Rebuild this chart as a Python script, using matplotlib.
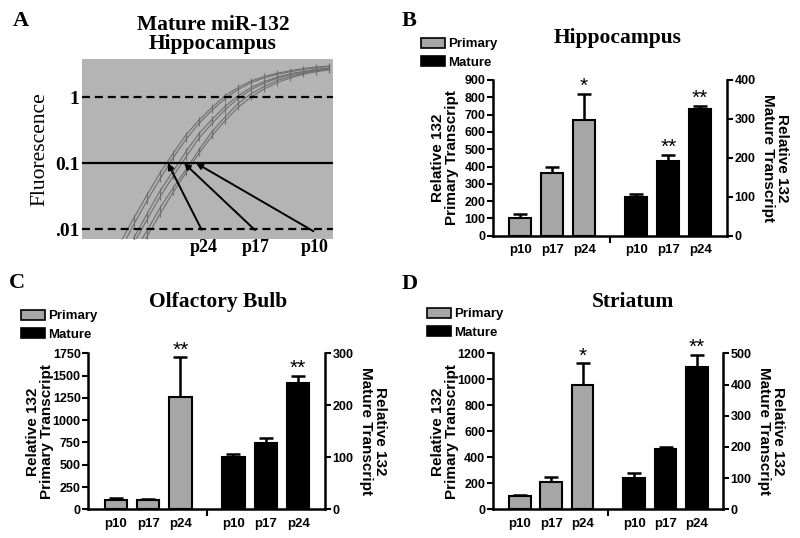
import matplotlib
matplotlib.use("Agg")
import matplotlib.pyplot as plt
import matplotlib.transforms as mtransforms
from matplotlib.patches import Patch
import numpy as np

SERIF = "Liberation Serif"
SANS = "Liberation Sans"
plt.rcParams["font.family"] = SANS
plt.rcParams["font.weight"] = "bold"
plt.rcParams["axes.labelweight"] = "bold"

W, H = 800, 538

# ---- panel A: real-time PCR amplification curves (fluorescence per cycle)
cycles = [18, 19, 20, 21, 22, 23, 24, 25, 26, 27, 28, 29, 30, 31, 32, 33, 34]
p24_a = [0.0065, 0.015, 0.033, 0.071, 0.14, 0.27, 0.45, 0.70, 1.05, 1.40, 1.75, 2.05, 2.30, 2.50, 2.70, 2.85, 2.95]
p24_b = [0.005, 0.012, 0.027, 0.058, 0.12, 0.23, 0.40, 0.63, 0.95, 1.30, 1.65, 1.95, 2.20, 2.42, 2.62, 2.78, 2.90]
p17_a = [0.0033, 0.0075, 0.017, 0.038, 0.075, 0.15, 0.28, 0.46, 0.72, 1.05, 1.40, 1.72, 2.00, 2.25, 2.45, 2.62, 2.75]
p17_b = [0.0028, 0.0062, 0.014, 0.031, 0.063, 0.125, 0.24, 0.40, 0.64, 0.95, 1.30, 1.62, 1.92, 2.18, 2.40, 2.58, 2.72]
p10_a = [0.002, 0.0045, 0.0095, 0.021, 0.042, 0.08, 0.16, 0.30, 0.50, 0.80, 1.12, 1.45, 1.78, 2.05, 2.30, 2.50, 2.65]
p10_b = [0.0016, 0.0036, 0.0078, 0.017, 0.036, 0.072, 0.14, 0.26, 0.44, 0.70, 1.00, 1.33, 1.65, 1.95, 2.22, 2.42, 2.58]
threshold = 0.1
guide_lines = [1, 0.01]
ct_labels = ["p24", "p17", "p10"]
ct_values = [21.6, 22.85, 23.77]

# ---- panels B-D: relative 132 transcript
ages = ["p10", "p17", "p24"]

hip_primary = [100, 360, 668]
hip_primary_err = [25, 36, 150]
hip_mature = [100, 192, 325]
hip_mature_err = [6, 16, 9]
hip_primary_stars = ["", "", "*"]
hip_mature_stars = ["", "**", "**"]

ob_primary = [100, 100, 1263]
ob_primary_err = [23, 15, 441]
ob_mature = [100, 127, 242]
ob_mature_err = [6, 10, 14]
ob_primary_stars = ["", "", "**"]
ob_mature_stars = ["", "", "**"]

str_primary = [100, 210, 960]
str_primary_err = [12, 40, 162]
str_mature = [100, 194, 455]
str_mature_err = [15, 6, 41]
str_primary_stars = ["", "", "*"]
str_mature_stars = ["", "", "**"]

GRAY = "#a6a6a6"


def fx(px):
    return px / W


def fy(py):
    return 1 - py / H


def rect(x0, y0, x1, y1):
    return [fx(x0), fy(y1), (x1 - x0) / W, (y1 - y0) / H]


fig = plt.figure(figsize=(8, 5.38), dpi=100)

# ---------------- panel A
axA = fig.add_axes(rect(82, 59, 333, 239))
axA.set_facecolor("#b4b4b4")
for curve in [p24_a, p24_b, p17_a, p17_b, p10_a, p10_b]:
    axA.plot(cycles, curve, color="#6e6e6e", lw=0.8, marker="|", ms=4, mew=0.8)
axA.axhline(threshold, color="black", lw=1.6)
for g in guide_lines:
    axA.axhline(g, color="black", lw=1.6, ls=(0, (3.6, 2.2)))
axA.set_yscale("log")
axA.set_xlim(15, 34.3)
axA.set_ylim(0.0071, 3.77)
axA.set_yticks([0.01, 0.1, 1])
axA.set_yticklabels([".01", "0.1", "1"], family=SERIF, fontsize=14)
axA.yaxis.set_minor_locator(matplotlib.ticker.NullLocator())
axA.tick_params(axis="y", length=0, pad=2)
axA.set_xticks([])
for s in axA.spines.values():
    s.set_visible(False)
axA.set_ylabel("Fluorescence", family=SERIF, fontweight="normal", fontsize=15.5, labelpad=4)

tails = [(24.2, 0.0098), (28.3, 0.0097), (32.8, 0.0093)]
label_x = [24.4, 28.4, 32.9]
trans = mtransforms.blended_transform_factory(axA.transData, axA.transAxes)
for lab, ct, tail, lx in zip(ct_labels, ct_values, tails, label_x):
    axA.annotate("", xy=(ct, threshold), xytext=tail,
                 arrowprops=dict(arrowstyle="-|>", color="black", lw=1.4,
                                 mutation_scale=9, shrinkA=0, shrinkB=0))
    axA.text(lx, -0.045, lab, transform=trans, ha="center", va="center",
             family=SERIF, fontsize=13)

fig.text(fx(213), fy(25), "Mature miR-132", ha="center", va="center", family=SERIF, fontsize=15.5)
fig.text(fx(213), fy(44), "Hippocampus", ha="center", va="center", family=SERIF, fontsize=15.5)
fig.text(fx(21), fy(21), "A", ha="center", va="center", family=SERIF, fontsize=16)


# ---------------- bar panels
def bar_panel(box, letter, letter_xy, title, title_xy, legend_xy,
              prim, prim_err, prim_stars, mat, mat_err, mat_stars,
              left_top, left_step, right_top, right_step):
    ax = fig.add_axes(rect(*box))
    ax2 = ax.twinx()
    xp = [0, 1, 2]
    xm = [3.64, 4.64, 5.64]
    ax.bar(xp, prim, width=0.69, color=GRAY, edgecolor="black", lw=1.5, zorder=3)
    ax.errorbar(xp, prim, yerr=[[0, 0, 0], prim_err], fmt="none", ecolor="black",
                elinewidth=1.8, capsize=5, capthick=1.8, zorder=2)
    ax2.bar(xm, mat, width=0.69, color="black", edgecolor="black", lw=1.5, zorder=3)
    ax2.errorbar(xm, mat, yerr=[[0, 0, 0], mat_err], fmt="none", ecolor="black",
                 elinewidth=1.8, capsize=5, capthick=1.8, zorder=2)
    for a, xs, vals, errs, stars in [(ax, xp, prim, prim_err, prim_stars),
                                     (ax2, xm, mat, mat_err, mat_stars)]:
        for x, v, e, s in zip(xs, vals, errs, stars):
            if s:
                a.annotate(s, xy=(x, v + e), xytext=(0, -1.5), textcoords="offset points",
                           ha="center", va="bottom", fontsize=15, fontweight="normal")
    ax.set_xlim(-0.85, 6.47)
    ax.set_ylim(0, left_top)
    ax2.set_ylim(0, right_top)
    ax.set_yticks(np.arange(0, left_top + 1, left_step))
    ax2.set_yticks(np.arange(0, right_top + 1, right_step))
    ax.set_xticks(xp + xm)
    ax.set_xticklabels(ages + ages)
    ax.set_xticks([2.82], minor=True)
    ax.tick_params(axis="x", which="major", length=0, pad=6, labelsize=9.5)
    ax.tick_params(axis="x", which="minor", length=5, width=1.5)
    ax.tick_params(axis="y", length=4, width=1.5, pad=1.5, labelsize=9)
    ax2.tick_params(axis="y", length=4, width=1.5, pad=1.5, labelsize=9)
    for s in ["top", "right"]:
        ax.spines[s].set_visible(False)
    for s in ["top", "left", "bottom"]:
        ax2.spines[s].set_visible(False)
    ax.spines["left"].set_linewidth(1.8)
    ax.spines["bottom"].set_linewidth(1.8)
    ax2.spines["right"].set_linewidth(1.8)
    wpx = box[2] - box[0]
    ax.set_ylabel("Relative 132\nPrimary Transcript", fontsize=11, fontweight="bold",
                  va="center", linespacing=1.0)
    ax.yaxis.set_label_coords(-48 / wpx, 0.5)
    ax2.set_ylabel("Relative 132\nMature Transcript", fontsize=11, fontweight="bold",
                   rotation=270, va="center", linespacing=1.0)
    ax2.yaxis.set_label_coords(1 + 48 / wpx, 0.5)
    ax.legend(handles=[Patch(facecolor=GRAY, edgecolor="black", lw=1.2, label="Primary"),
                       Patch(facecolor="black", edgecolor="black", lw=1.2, label="Mature")],
              loc="upper left", bbox_to_anchor=(fx(legend_xy[0]), fy(legend_xy[1])),
              bbox_transform=fig.transFigure, frameon=False, handlelength=1.8,
              handleheight=0.75, handletextpad=0.25, labelspacing=0.45,
              borderpad=0, borderaxespad=0, fontsize=9.5)
    fig.text(fx(title_xy[0]), fy(title_xy[1]), title, ha="center", va="center",
             family=SERIF, fontsize=15.5)
    fig.text(fx(letter_xy[0]), fy(letter_xy[1]), letter, ha="center", va="center",
             family=SERIF, fontsize=16)


bar_panel((493.3, 80, 726.7, 235.7), "B", (409, 21), "Hippocampus", (618, 38), (421, 38),
          hip_primary, hip_primary_err, hip_primary_stars,
          hip_mature, hip_mature_err, hip_mature_stars, 900, 100, 400, 100)
bar_panel((88.3, 353.3, 325, 509.3), "C", (17, 283), "Olfactory Bulb", (218, 302), (21, 310),
          ob_primary, ob_primary_err, ob_primary_stars,
          ob_mature, ob_mature_err, ob_mature_stars, 1750, 250, 300, 100)
bar_panel((493, 353.3, 723, 509.3), "D", (410, 284), "Striatum", (633, 302), (427, 308),
          str_primary, str_primary_err, str_primary_stars,
          str_mature, str_mature_err, str_mature_stars, 1200, 200, 500, 100)

fig.savefig("out.png", dpi=100)
